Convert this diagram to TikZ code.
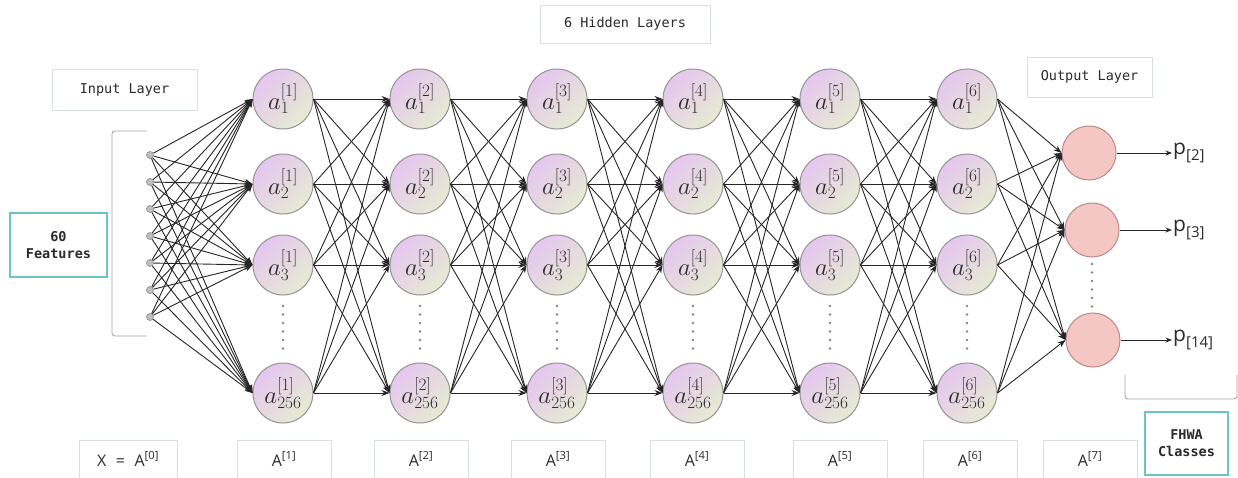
\documentclass[tikz,border=0pt]{standalone}
\usepackage{fontspec}
\newfontfamily\monof{DejaVu Sans Mono}
\newfontfamily\sansf{Open Sans}
\usetikzlibrary{arrows.meta}
\definecolor{pinkc}{HTML}{E6C6F0}
\definecolor{greenc}{HTML}{E6EBD3}
\definecolor{nodeb}{HTML}{939393}
\definecolor{outf}{HTML}{F4C6C4}
\definecolor{outb}{HTML}{B98A88}
\definecolor{boxb}{HTML}{D9DFE7}
\definecolor{tealb}{HTML}{6CC3C7}
\definecolor{edgec}{HTML}{262626}
\definecolor{txtc}{HTML}{2B2B2B}
\tikzset{
  hid/.style={circle, draw=nodeb, line width=1pt, minimum size=60pt, inner sep=0pt,
    top color=pinkc, bottom color=greenc, shading angle=45, text=txtc,
    font=\fontsize{23}{26}\selectfont},
  outn/.style={circle, draw=outb, line width=1pt, fill=outf, minimum size=54pt, inner sep=0pt},
  dotn/.style={circle, draw=gray!85, fill=gray!50, minimum size=7pt, inner sep=0pt, line width=0.7pt},
  lbox/.style={draw=boxb, line width=0.8pt, inner sep=0pt, text=txtc},
  tbox/.style={draw=tealb, line width=1.2pt, inner sep=0pt, text=txtc, align=center,
    font=\monof\bfseries\fontsize{13.5}{17}\selectfont},
  monot/.style={font=\monof\fontsize{13.5}{16}\selectfont},
  edge/.style={draw=edgec, line width=0.9pt, -{Stealth[length=8pt,width=6pt]}},
  pedge/.style={draw=edgec, line width=0.9pt, -{Stealth[length=6.5pt,width=5pt]}},
  plabel/.style={anchor=west, inner sep=1pt, text=txtc, font=\sansf\fontsize{21}{24}\selectfont},
  alabel/.style={lbox, minimum width=94pt, minimum height=38pt, font=\sansf\fontsize{16}{19}\selectfont},
  vdots/.style={draw=gray!95, line width=2.6pt, line cap=round, dash pattern=on 0pt off 8.5pt},
  brk/.style={draw=gray!70, line width=0.9pt, rounded corners=3pt}
}
\newcommand{\psub}[1]{p\raisebox{-0.28em}{\fontsize{15}{17}\selectfont[#1]}}
\begin{document}
\begin{tikzpicture}[x=1pt,y=-1pt]
\useasboundingbox (0,0) rectangle (1238,477);
\fill[white] (0,0) rectangle (1238,477);

% title boxes
\node[lbox, monot, minimum width=170pt, minimum height=38pt] (hl) at (625,24) {6 Hidden Layers};
\node[lbox, monot, minimum width=145pt, minimum height=41pt] (il) at (124.5,89.5) {Input Layer};
\node[lbox, monot, minimum width=125pt, minimum height=40pt] (ol) at (1089.5,77) {Output Layer};
\node[tbox, minimum width=97pt, minimum height=64pt] (feat) at (58.5,245) {60\\Features};

% input bracket
\draw[brk] (147,131) -- (112,131) -- (112,336) -- (147,336);

% input dots
\foreach \m [count=\c] in {155,182,209,236,263,290,317}
  \node[dotn] (in-\c) at (150,\m) {};

% hidden layers
\foreach \x [count=\l] in {283,420,557,693,830,967} {
  \node[hid] (L\l-1) at (\x,99)  {$a_{1}^{[\l]}$};
  \node[hid] (L\l-2) at (\x,184) {$a_{2}^{[\l]}$};
  \node[hid] (L\l-3) at (\x,265) {$a_{3}^{[\l]}$};
  \node[hid] (L\l-4) at (\x,393) {$a_{256}^{[\l]}$};
  \coordinate (dA\l) at (\x,306);
  \coordinate (dB\l) at (\x,354);
  \draw[vdots] (dA\l) -- (dB\l);
}

% output nodes
\node[outn] (O-1) at (1089,153) {};
\node[outn] (O-2) at (1092,230) {};
\node[outn] (O-3) at (1093,340) {};
\coordinate (oA) at (1092,264);
\coordinate (oB) at (1092,308);
\draw[vdots] (oA) -- (oB);

% p labels
\node[plabel] (p-1) at (1172,153) {\psub{2}};
\node[plabel] (p-2) at (1172,230) {\psub{3}};
\node[plabel] (p-3) at (1172,340) {\psub{14}};

% output bracket
\draw[brk] (1125,375) -- (1125,399) -- (1237,399) -- (1237,375);

% bottom labels
\node[alabel, minimum width=98pt] (a0) at (128,459) {X\hspace{0.6em}=\hspace{0.6em}A\textsuperscript{[0]}};
\foreach \x [count=\l] in {284,421,558,697,840,970,1090}
  \node[alabel] (a\l) at (\x,459) {A\textsuperscript{[\l]}};
\node[tbox, minimum width=83pt, minimum height=63pt] (fhwa) at (1186.5,443.5) {FHWA\\Classes};

% edges: input -> layer 1
\foreach \i in {1,...,7}
  \foreach \k in {1,...,4}
    \draw[edge] (in-\i) -- (L1-\k.west);

% edges: hidden -> hidden
\foreach \l [evaluate=\l as \n using int(\l+1)] in {1,...,5}
  \foreach \j in {1,...,4}
    \foreach \k in {1,...,4}
      \draw[edge] (L\l-\j.east) -- (L\n-\k.west);

% edges: layer 6 -> output
\foreach \j in {1,...,4}
  \foreach \k in {1,2,3}
    \draw[edge] (L6-\j.east) -- (O-\k.west);

% output arrows
\foreach \k in {1,2,3}
  \draw[pedge] (O-\k.east) -- (O-\k.east -| p-\k.west);
\end{tikzpicture}
\end{document}
